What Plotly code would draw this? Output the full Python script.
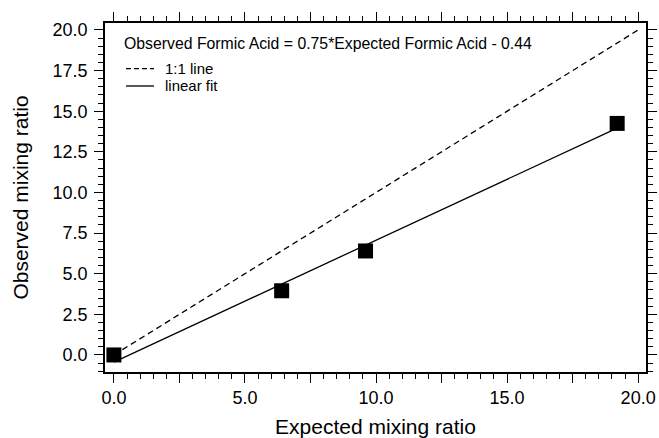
import plotly.graph_objects as go

# Data
expected = [0.0, 6.4, 9.6, 19.2]
observed = [0.0, 3.95, 6.4, 14.25]

one_to_one_x = [0.0, 20.0]
one_to_one_y = [0.0, 20.0]

fit_slope = 0.75
fit_intercept = -0.44
fit_x = [0.0, 19.2]
fit_y = [fit_slope * v + fit_intercept for v in fit_x]

x_tickvals = [0, 2.5, 5, 7.5, 10, 12.5, 15, 17.5, 20]
x_ticktext = ["0.0", "", "5.0", "", "10.0", "", "15.0", "", "20.0"]
y_tickvals = [0, 2.5, 5, 7.5, 10, 12.5, 15, 17.5, 20]
y_ticktext = ["0.0", "2.5", "5.0", "7.5", "10.0", "12.5", "15.0", "17.5", "20.0"]

equation = "Observed Formic Acid = 0.75*Expected Formic Acid - 0.44"
legend_names = ["1:1 line", "linear fit"]
legend_dashes = ["5px,3px", "solid"]

FONT = "Liberation Sans, Arial, Helvetica, sans-serif"

fig = go.Figure()
fig.add_trace(go.Scatter(
    x=one_to_one_x, y=one_to_one_y, mode="lines", name=legend_names[0],
    line=dict(color="black", width=1.3, dash="6px,4px"), showlegend=False,
))
fig.add_trace(go.Scatter(
    x=fit_x, y=fit_y, mode="lines", name=legend_names[1],
    line=dict(color="black", width=1.3), showlegend=False,
))
fig.add_trace(go.Scatter(
    x=expected, y=observed, mode="markers", name="data", showlegend=False,
    marker=dict(symbol="square", size=15, color="black"),
))

axis_common = dict(
    showgrid=False, zeroline=False, showline=True, linecolor="black",
    linewidth=1.5, mirror="allticks", ticks="outside", ticklen=9,
    tickwidth=1, tickcolor="black", automargin=False,
    tickfont=dict(family=FONT, size=18, color="black"),
    minor=dict(ticks="outside", ticklen=5, tickwidth=1, tickcolor="black", dtick=0.5),
)

fig.update_xaxes(
    range=[-0.34, 20.3], tickmode="array", tickvals=x_tickvals, ticktext=x_ticktext,
    title=dict(text="Expected mixing ratio", font=dict(family=FONT, size=21, color="black"), standoff=13),
    ticklabelstandoff=0,
    **axis_common,
)
fig.update_yaxes(
    range=[-1.05, 20.43], tickmode="array", tickvals=y_tickvals, ticktext=y_ticktext,
    title=dict(text="Observed mixing ratio", font=dict(family=FONT, size=21, color="black"), standoff=18),
    ticklabelstandoff=3,
    **axis_common,
)

# Legend drawn in the plot-area corner
txt_font = dict(family=FONT, size=15.8, color="black")
leg_font = dict(family=FONT, size=15, color="black")
fig.add_annotation(xref="paper", yref="paper", x=0.031, y=0.94, xanchor="left", yanchor="middle",
                   text=equation, showarrow=False, font=txt_font)
leg_rows_y = [0.869, 0.8195]
for name, dash, yy in zip(legend_names, legend_dashes, leg_rows_y):
    fig.add_shape(type="line", xref="paper", yref="paper", x0=0.0388, x1=0.0906, y0=yy, y1=yy,
                  line=dict(color="black", width=1.3, dash=dash))
    fig.add_annotation(xref="paper", yref="paper", x=0.108, y=yy, xanchor="left", yanchor="middle",
                       text=name, showarrow=False, font=leg_font)

fig.update_layout(
    width=659, height=438,
    margin=dict(l=105, r=13, t=23, b=66),
    paper_bgcolor="white", plot_bgcolor="white",
    showlegend=False,
)

fig.write_html(
    "out.html",
    config={"displayModeBar": False},
    post_script="document.body.style.margin='0';document.body.style.overflow='hidden';",
)
